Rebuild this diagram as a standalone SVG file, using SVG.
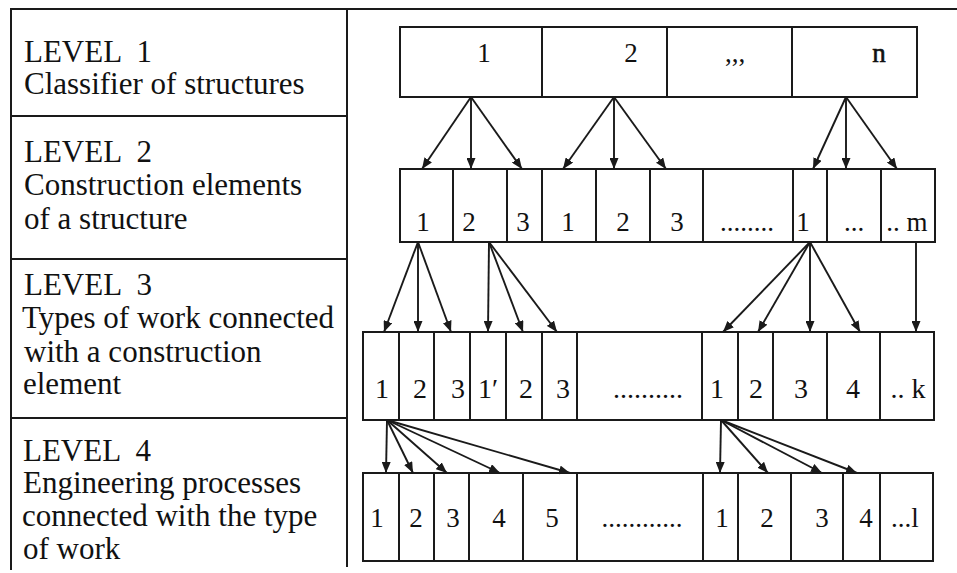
<svg xmlns="http://www.w3.org/2000/svg" width="957" height="573" viewBox="0 0 957 573">
<style>
.frame{stroke:#1a1a1a;stroke-width:2;fill:none}
.cell{fill:#fff;stroke:#1a1a1a;stroke-width:2}
.hd{font-family:"Liberation Serif","Times New Roman",serif;font-size:31px;fill:#111;white-space:pre}
.lbl{font-family:"Liberation Serif","Times New Roman",serif;font-size:27px;fill:#111;text-anchor:middle}
.l3{font-size:28px}
.conn line{stroke:#1a1a1a;stroke-width:1.9;marker-end:url(#ah)}
</style>
<defs>
<marker id="ah" viewBox="0 0 11 9" refX="11" refY="4.5" markerWidth="11" markerHeight="9" markerUnits="userSpaceOnUse" orient="auto">
<path d="M0,0 L11,4.5 L0,9 z" fill="#1a1a1a"/>
</marker>
</defs>
<rect width="957" height="573" fill="#fff"/>
<g id="table" class="frame">
<line x1="10" y1="9" x2="957" y2="9"/>
<line x1="11" y1="9" x2="11" y2="570"/>
<line x1="347" y1="9" x2="347" y2="567"/>
<line x1="11" y1="116" x2="347" y2="116"/>
<line x1="11" y1="259" x2="347" y2="259"/>
<line x1="11" y1="418" x2="347" y2="418"/>
</g>
<g id="level1-label">
<text class="hd" x="24" y="62">LEVEL  1</text>
<text class="hd" x="24" y="94">Classifier of structures</text>
</g>
<g id="level2-label">
<text class="hd" x="24" y="162">LEVEL  2</text>
<text class="hd" x="24" y="195">Construction elements</text>
<text class="hd" x="24" y="229">of a structure</text>
</g>
<g id="level3-label">
<text class="hd" x="24" y="295">LEVEL  3</text>
<text class="hd" x="22" y="328">Types of work connected</text>
<text class="hd" x="24" y="362">with a construction</text>
<text class="hd" x="23" y="394">element</text>
</g>
<g id="level4-label">
<text class="hd" x="23" y="461">LEVEL  4</text>
<text class="hd" x="23" y="493">Engineering processes</text>
<text class="hd" x="22" y="526">connected with the type</text>
<text class="hd" x="23" y="559">of work</text>
</g>

<g id="l1-1"><rect class="cell" x="400" y="27" width="142" height="70"/><text class="lbl" x="484" y="62">1</text></g>
<g id="l1-2"><rect class="cell" x="542" y="27" width="125" height="70"/><text class="lbl" x="631" y="62">2</text></g>
<g id="l1-3"><rect class="cell" x="667" y="27" width="125" height="70"/><text class="lbl" x="735" y="62">,,,</text></g>
<g id="l1-n"><rect class="cell" x="792" y="27" width="125" height="70"/><text class="lbl" x="879" y="62" font-size="30" stroke="#111" stroke-width="0.6">n</text></g>

<g id="l2-1"><rect class="cell" x="400" y="169" width="53" height="73"/><text class="lbl" x="423" y="231">1</text></g>
<g id="l2-2"><rect class="cell" x="453" y="169" width="54" height="73"/><text class="lbl" x="469" y="231">2</text></g>
<g id="l2-3"><rect class="cell" x="507" y="169" width="35" height="73"/><text class="lbl" x="523" y="231">3</text></g>
<g id="l2-4"><rect class="cell" x="542" y="169" width="54" height="73"/><text class="lbl" x="568" y="231">1</text></g>
<g id="l2-5"><rect class="cell" x="596" y="169" width="54" height="73"/><text class="lbl" x="623" y="231">2</text></g>
<g id="l2-6"><rect class="cell" x="650" y="169" width="53" height="73"/><text class="lbl" x="677" y="231">3</text></g>
<g id="l2-7"><rect class="cell" x="703" y="169" width="90" height="73"/><text class="lbl" x="747" y="231">........</text></g>
<g id="l2-8"><rect class="cell" x="793" y="169" width="34" height="73"/><text class="lbl" x="803" y="231">1</text></g>
<g id="l2-9"><rect class="cell" x="827" y="169" width="54" height="73"/><text class="lbl" x="854" y="231">...</text></g>
<g id="l2-m"><rect class="cell" x="881" y="169" width="54" height="73"/><text class="lbl" x="907" y="231">.. m</text></g>

<g id="l3-1"><rect class="cell" x="363" y="332" width="36" height="88"/><text class="lbl l3" x="382" y="398">1</text></g>
<g id="l3-2"><rect class="cell" x="399" y="332" width="35" height="88"/><text class="lbl l3" x="420" y="398">2</text></g>
<g id="l3-3"><rect class="cell" x="434" y="332" width="36" height="88"/><text class="lbl l3" x="458" y="398">3</text></g>
<g id="l3-4"><rect class="cell" x="470" y="332" width="36" height="88"/><text class="lbl l3" x="488" y="398">1′</text></g>
<g id="l3-5"><rect class="cell" x="506" y="332" width="36" height="88"/><text class="lbl l3" x="526" y="398">2</text></g>
<g id="l3-6"><rect class="cell" x="542" y="332" width="35" height="88"/><text class="lbl l3" x="563" y="398">3</text></g>
<g id="l3-7"><rect class="cell" x="577" y="332" width="125" height="88"/><text class="lbl l3" x="648" y="398">..........</text></g>
<g id="l3-8"><rect class="cell" x="702" y="332" width="36" height="88"/><text class="lbl l3" x="717" y="398">1</text></g>
<g id="l3-9"><rect class="cell" x="738" y="332" width="35" height="88"/><text class="lbl l3" x="756" y="398">2</text></g>
<g id="l3-10"><rect class="cell" x="773" y="332" width="54" height="88"/><text class="lbl l3" x="801" y="398">3</text></g>
<g id="l3-11"><rect class="cell" x="827" y="332" width="53" height="88"/><text class="lbl l3" x="853" y="398">4</text></g>
<g id="l3-k"><rect class="cell" x="880" y="332" width="54" height="88"/><text class="lbl l3" x="908" y="398">.. k</text></g>

<g id="l4-1"><rect class="cell" x="363" y="473" width="36" height="88"/><text class="lbl" x="377" y="527">1</text></g>
<g id="l4-2"><rect class="cell" x="399" y="473" width="35" height="88"/><text class="lbl" x="416" y="527">2</text></g>
<g id="l4-3"><rect class="cell" x="434" y="473" width="35" height="88"/><text class="lbl" x="453" y="527">3</text></g>
<g id="l4-4"><rect class="cell" x="469" y="473" width="54" height="88"/><text class="lbl" x="499" y="527">4</text></g>
<g id="l4-5"><rect class="cell" x="523" y="473" width="54" height="88"/><text class="lbl" x="552" y="527">5</text></g>
<g id="l4-6"><rect class="cell" x="577" y="473" width="126" height="88"/><text class="lbl" x="642" y="527">............</text></g>
<g id="l4-7"><rect class="cell" x="703" y="473" width="35" height="88"/><text class="lbl" x="722" y="527">1</text></g>
<g id="l4-8"><rect class="cell" x="738" y="473" width="53" height="88"/><text class="lbl" x="767" y="527">2</text></g>
<g id="l4-9"><rect class="cell" x="791" y="473" width="52" height="88"/><text class="lbl" x="822" y="527">3</text></g>
<g id="l4-10"><rect class="cell" x="843" y="473" width="37" height="88"/><text class="lbl" x="866" y="527">4</text></g>
<g id="l4-l"><rect class="cell" x="880" y="473" width="53" height="88"/><text class="lbl" x="905" y="527">...l</text></g>

<g id="connectors" class="conn">
<line x1="471" y1="97" x2="422" y2="169"/>
<line x1="471" y1="97" x2="471" y2="169"/>
<line x1="471" y1="97" x2="522" y2="169"/>
<line x1="614" y1="97" x2="563" y2="169"/>
<line x1="614" y1="97" x2="614" y2="169"/>
<line x1="614" y1="97" x2="666" y2="169"/>
<line x1="846" y1="97" x2="813" y2="169"/>
<line x1="846" y1="97" x2="846" y2="169"/>
<line x1="846" y1="97" x2="897" y2="169"/>

<line x1="418" y1="242" x2="384" y2="332"/>
<line x1="418" y1="242" x2="418" y2="332"/>
<line x1="418" y1="242" x2="451" y2="332"/>
<line x1="489" y1="242" x2="488" y2="332"/>
<line x1="489" y1="242" x2="523" y2="332"/>
<line x1="489" y1="242" x2="557" y2="332"/>
<line x1="810" y1="242" x2="723" y2="332"/>
<line x1="810" y1="242" x2="758" y2="332"/>
<line x1="810" y1="242" x2="810" y2="332"/>
<line x1="810" y1="242" x2="860" y2="332"/>
<line x1="916" y1="242" x2="916" y2="332"/>

<line x1="387" y1="420" x2="386" y2="473"/>
<line x1="387" y1="420" x2="413" y2="473"/>
<line x1="387" y1="420" x2="447" y2="473"/>
<line x1="387" y1="420" x2="500" y2="473"/>
<line x1="387" y1="420" x2="570" y2="473"/>
<line x1="721" y1="420" x2="720" y2="473"/>
<line x1="721" y1="420" x2="768" y2="473"/>
<line x1="721" y1="420" x2="822" y2="473"/>
<line x1="721" y1="420" x2="857" y2="473"/>
</g>
</svg>
